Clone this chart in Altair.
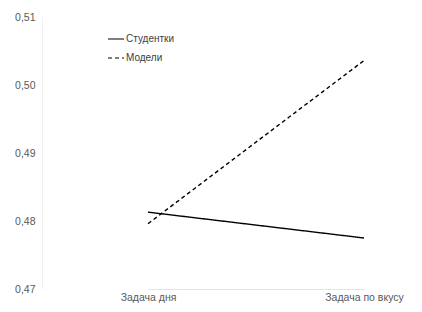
import altair as alt
import pandas as pd

categories = ["Задача дня", "Задача по вкусу"]
series_names = ["Студентки", "Модели"]
students = [0.4813, 0.4775]
models = [0.4796, 0.5036]
y_ticks = [0.47, 0.48, 0.49, 0.50, 0.51]

rows = []
for c, v in zip(categories, students):
    rows.append({"task": c, "group": series_names[0], "value": v})
for c, v in zip(categories, models):
    rows.append({"task": c, "group": series_names[1], "value": v})
df = pd.DataFrame(rows)

font = "Liberation Sans"

chart = alt.Chart(df).mark_line(strokeWidth=1.4, color="#000000").encode(
    x=alt.X("task:N", sort=categories, title=None,
            scale=alt.Scale(type="point", range=[72, 288], padding=0),
            axis=alt.Axis(labelAngle=0, ticks=False, domainColor="#e4e4e4",
                          labelColor="#595959", labelFontSize=10.5, labelFont=font,
                          labelPadding=3, grid=False)),
    y=alt.Y("value:Q", title=None,
            scale=alt.Scale(domain=[0.47, 0.51], nice=False, zero=False),
            axis=alt.Axis(values=y_ticks, ticks=False, grid=False, offset=34,
                          domainColor="#f0f0f0", labelColor="#595959",
                          labelFontSize=10.5, labelFont=font, labelPadding=7,
                          labelExpr="replace(format(datum.value, '.2f'), '.', ',')")),
    strokeDash=alt.StrokeDash("group:N", sort=series_names,
                              scale=alt.Scale(domain=series_names, range=[[1, 0], [4, 3]]),
                              legend=alt.Legend(title=None, orient="none", legendX=31, legendY=13,
                                                symbolType="stroke", symbolSize=256,
                                                symbolStrokeColor="#000000", symbolStrokeWidth=1.2,
                                                labelFont=font, labelFontSize=10,
                                                labelColor="#404040", labelOffset=1,
                                                rowPadding=5)),
    detail="group:N",
).properties(
    width=338, height=272,
    background="#ffffff",
    autosize=alt.AutoSizeParams(type="none"),
    padding={"left": 68, "top": 9, "right": 0, "bottom": 15},
).configure_view(stroke=None)

chart.save("out.html", embed_options={"renderer": "svg", "actions": False})
